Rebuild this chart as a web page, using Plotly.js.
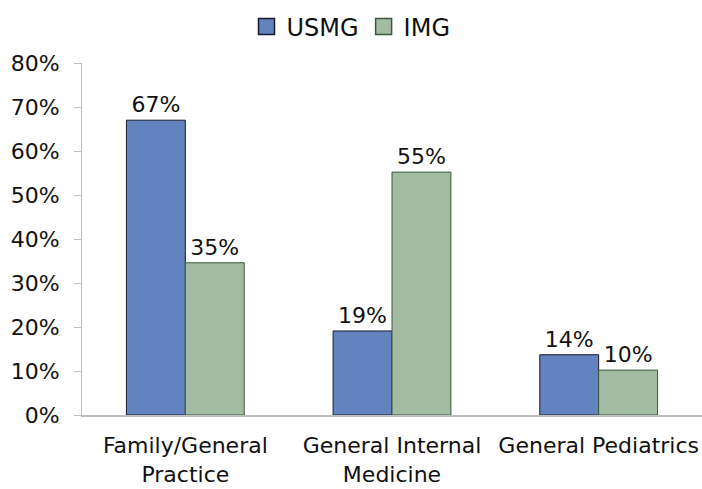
<!DOCTYPE html>
<html>
<head>
<meta charset="utf-8">
<script src="https://cdn.plot.ly/plotly-3.0.1.min.js"></script>
<style>html,body{margin:0;padding:0;background:#fff;}#chart{width:702px;height:489px;}</style>
</head>
<body>
<div id="chart"></div>
<script>
var categories = ["Family/General<br>Practice", "General Internal<br>Medicine", "General Pediatrics"];
var seriesNames = ["USMG", "IMG"];
var usmgValues = [67, 19.1, 13.7];
var imgValues = [34.6, 55.2, 10.2];
var usmgLabels = ["67%", "19%", "14%"];
var imgLabels = ["35%", "55%", "10%"];
var yTickVals = [0, 10, 20, 30, 40, 50, 60, 70, 80];
var yTickText = ["0%", "10%", "20%", "30%", "40%", "50%", "60%", "70%", "80%"];

var fontFam = "'DejaVu Sans', sans-serif";
var fills = ["#6383BE", "#A3BBA3"];
var edges = ["#1a1a2e", "#3b5a3b"];

var traces = [
  {
    type: "bar", name: seriesNames[0], x: categories, y: usmgValues,
    text: usmgLabels, textposition: "outside", cliponaxis: false,
    textfont: {family: fontFam, size: 22, color: "#111"},
    marker: {color: fills[0], line: {color: edges[0], width: 1}},
    hoverinfo: "none", showlegend: false
  },
  {
    type: "bar", name: seriesNames[1], x: categories, y: imgValues,
    text: imgLabels, textposition: "outside", cliponaxis: false,
    textfont: {family: fontFam, size: 22, color: "#111"},
    marker: {color: fills[1], line: {color: edges[1], width: 1}},
    hoverinfo: "none", showlegend: false
  }
];
seriesNames.forEach(function (nm, i) {
  traces.push({
    type: "scatter", mode: "markers", name: nm,
    x: [categories[0]], y: [null],
    marker: {symbol: "square", size: 16, color: fills[i], line: {color: edges[i], width: 1.5}},
    hoverinfo: "none", showlegend: true
  });
});

var layout = {
  width: 702, height: 489,
  margin: {l: 82, r: 0, t: 63, b: 74},
  paper_bgcolor: "#fff", plot_bgcolor: "#fff",
  font: {family: fontFam, color: "#111", size: 22},
  barmode: "group", bargap: 0.43, bargroupgap: 0,
  showlegend: true,
  legend: {orientation: "h", x: 0.5, xanchor: "center", xref: "container",
           y: 0.945, yanchor: "middle", yref: "container",
           font: {size: 24, family: fontFam}, itemwidth: 30, traceorder: "normal"},
  xaxis: {
    type: "category", showline: true, linecolor: "#bfbfbf", linewidth: 2,
    ticks: "", showgrid: false, zeroline: false,
    tickfont: {size: 22, family: fontFam, color: "#111"},
    ticklabelstandoff: 10
  },
  yaxis: {
    range: [0, 80], tickvals: yTickVals, ticktext: yTickText,
    showline: true, linecolor: "#bfbfbf", linewidth: 1,
    ticks: "outside", ticklen: 7, tickcolor: "#bfbfbf",
    showgrid: false, zeroline: false,
    tickfont: {size: 22, family: fontFam, color: "#111"},
    ticklabelstandoff: 10
  }
};

Plotly.newPlot("chart", traces, layout, {displayModeBar: false, staticPlot: true});
</script>
</body>
</html>
